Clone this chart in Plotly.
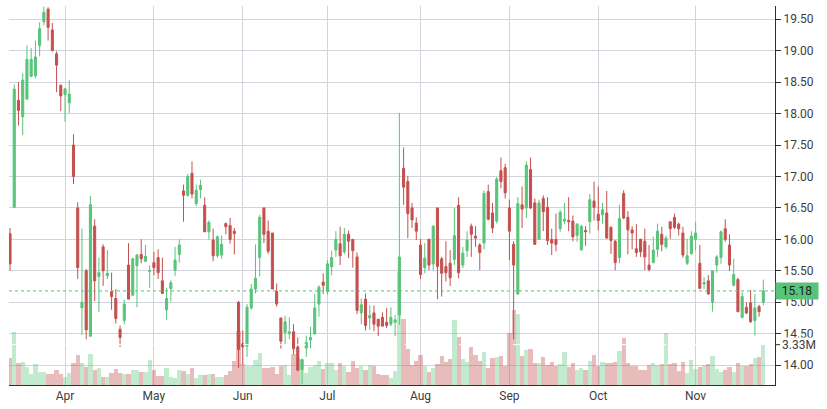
import pandas as pd
import plotly.graph_objects as go

# ---------------- data ----------------
holidays = ["2024-03-29", "2024-04-01", "2024-05-06", "2024-05-27", "2024-07-04", "2024-08-26"]
dates = pd.bdate_range("2024-03-12", "2024-11-25", freq="C", holidays=holidays)

open_ = [16.09, 16.51, 18.21, 17.95, 18.23, 18.59, 18.60, 19.08, 19.46, 19.66,
         19.33, 18.95, 18.45, 18.30, 18.17, 17.50, 16.50, 14.91, 15.50, 14.46,
         16.21, 15.41, 15.88, 15.42, 15.17, 15.06, 14.57, 14.71, 15.59, 15.11,
         15.58, 15.76, 15.65, 15.49, 15.63, 15.71, 15.34, 14.88, 15.22, 15.51,
         15.76, 16.77, 16.70, 17.05, 16.57, 16.79, 16.54, 16.12, 15.99, 15.74,
         15.75, 16.25, 16.22, 16.13, 15.00, 14.34, 14.30, 14.91, 15.21, 15.71,
         16.50, 16.13, 16.10, 15.17, 14.75, 14.52, 14.50, 14.53, 14.29, 13.93,
         14.27, 14.40, 14.50, 14.97, 15.32, 15.17, 15.56, 15.83, 15.93, 15.80,
         16.08, 16.00, 15.72, 14.83, 15.05, 14.75, 14.83, 14.73, 14.76, 14.68,
         14.65, 14.68, 14.80, 17.13, 16.92, 16.50, 16.26, 15.91, 15.55, 16.00,
         15.61, 16.50, 15.69, 15.57, 15.62, 15.68, 16.54, 15.59, 15.82, 16.21,
         16.05, 15.91, 15.94, 16.76, 16.42, 16.29, 17.09, 17.14, 16.50, 15.92,
         15.13, 16.55, 16.50, 17.11, 16.58, 16.00, 16.65, 16.51, 16.00, 16.00,
         16.17, 16.29, 16.30, 16.29, 16.06, 15.83, 16.14, 16.28, 16.61, 16.40,
         16.39, 16.42, 16.19, 15.97, 15.71, 16.73, 16.35, 16.15, 15.85, 16.00,
         15.97, 15.59, 15.63, 15.84, 16.08, 15.88, 16.28, 16.35, 16.24, 16.10,
         15.62, 15.77, 16.00, 15.62, 15.29, 15.34, 15.00, 15.59, 15.71, 16.17,
         15.91, 15.27, 15.36, 14.76, 14.92, 14.99, 14.71, 14.93, 15.00]

high = [16.18, 18.46, 18.50, 18.64, 19.08, 19.04, 19.16, 19.45, 19.70, 19.69,
        19.44, 18.99, 18.46, 18.41, 18.53, 17.67, 16.59, 16.17, 15.53, 16.69,
        16.32, 15.71, 15.92, 15.83, 15.47, 15.21, 14.63, 15.04, 15.94, 15.71,
        15.77, 16.00, 15.91, 15.59, 15.80, 15.84, 15.71, 15.23, 15.35, 15.88,
        16.00, 16.87, 17.04, 17.24, 16.87, 16.95, 16.67, 16.30, 16.17, 16.06,
        16.06, 16.27, 16.34, 16.18, 15.02, 14.55, 14.97, 15.29, 15.92, 16.39,
        16.50, 16.30, 16.10, 15.30, 14.75, 14.78, 14.76, 14.65, 14.44, 14.10,
        14.47, 14.61, 15.13, 15.27, 15.46, 15.67, 15.82, 16.13, 16.20, 16.18,
        16.14, 16.00, 15.79, 15.06, 15.14, 14.95, 14.95, 14.73, 14.84, 14.91,
        14.92, 14.80, 18.01, 17.46, 17.01, 16.58, 16.35, 16.01, 15.94, 16.01,
        16.22, 16.50, 15.72, 15.97, 15.83, 16.50, 16.67, 15.88, 16.13, 16.25,
        16.21, 15.94, 16.78, 16.87, 16.58, 16.99, 17.30, 17.20, 16.63, 15.97,
        16.67, 16.84, 17.24, 17.30, 16.65, 16.63, 16.70, 16.67, 16.17, 16.41,
        16.47, 16.58, 16.67, 16.38, 16.26, 16.23, 16.21, 16.72, 16.92, 16.84,
        16.58, 16.77, 16.21, 15.99, 16.55, 16.78, 16.45, 16.21, 16.24, 16.01,
        16.17, 15.91, 16.04, 16.25, 16.20, 16.06, 16.28, 16.41, 16.27, 16.20,
        16.01, 16.13, 16.28, 15.91, 15.40, 15.43, 15.50, 15.75, 16.14, 16.32,
        16.08, 15.69, 15.39, 15.16, 15.00, 15.19, 15.13, 14.96, 15.36]

low = [15.50, 16.51, 17.81, 17.66, 18.22, 18.58, 18.56, 18.91, 19.40, 19.16,
       18.99, 18.34, 18.04, 17.87, 18.01, 16.88, 15.37, 14.48, 14.41, 14.46,
       15.02, 14.84, 15.26, 15.37, 14.88, 14.66, 14.29, 14.65, 15.05, 15.11,
       14.92, 15.62, 15.64, 15.23, 15.43, 15.37, 15.13, 14.72, 15.01, 15.42,
       15.63, 16.28, 16.68, 16.65, 16.53, 16.65, 16.12, 16.00, 15.65, 15.71,
       15.69, 16.08, 15.93, 15.76, 13.95, 14.01, 14.13, 14.88, 15.14, 15.41,
       15.94, 15.77, 15.21, 14.93, 14.26, 14.33, 14.41, 14.17, 13.90, 13.70,
       14.13, 14.27, 14.48, 14.77, 15.13, 15.12, 15.43, 15.72, 15.59, 15.77,
       15.70, 15.55, 14.81, 14.65, 14.55, 14.56, 14.54, 14.46, 14.62, 14.59,
       14.62, 14.46, 14.64, 16.55, 16.02, 16.18, 15.99, 15.37, 15.46, 15.51,
       15.51, 15.05, 15.09, 15.33, 15.26, 15.59, 15.38, 15.54, 15.72, 15.72,
       15.88, 15.51, 15.84, 16.30, 16.10, 16.25, 16.81, 16.65, 15.67, 14.41,
       15.12, 16.18, 16.34, 16.48, 15.91, 16.00, 16.13, 15.91, 15.75, 15.81,
       16.12, 16.24, 16.13, 15.97, 15.96, 15.83, 15.90, 16.09, 16.30, 16.14,
       16.25, 16.01, 15.77, 15.51, 15.62, 16.32, 15.76, 15.84, 15.72, 15.72,
       15.51, 15.49, 15.62, 15.72, 15.81, 15.85, 16.01, 16.16, 16.06, 15.71,
       15.59, 15.76, 15.83, 15.21, 15.21, 15.12, 14.85, 15.47, 15.61, 15.96,
       15.50, 15.25, 14.84, 14.74, 14.81, 14.67, 14.47, 14.77, 14.95]

close = [15.61, 18.39, 18.05, 18.53, 18.86, 18.86, 18.90, 19.35, 19.61, 19.37,
         19.00, 18.77, 18.28, 18.39, 18.31, 17.00, 15.55, 15.00, 14.56, 16.55,
         15.34, 15.47, 15.50, 15.46, 15.09, 14.74, 14.44, 14.97, 15.05, 15.69,
         15.75, 15.69, 15.73, 15.50, 15.55, 15.47, 15.14, 15.06, 15.31, 15.67,
         15.91, 16.70, 17.00, 16.72, 16.78, 16.86, 16.12, 16.27, 15.74, 16.04,
         15.92, 16.20, 16.00, 16.09, 14.25, 14.29, 14.92, 15.21, 15.38, 16.35,
         16.08, 15.81, 15.21, 14.97, 14.38, 14.69, 14.53, 14.26, 13.92, 14.09,
         14.36, 14.44, 14.91, 15.24, 15.27, 15.61, 15.71, 16.00, 15.74, 16.08,
         15.97, 15.82, 14.87, 14.96, 14.63, 14.79, 14.65, 14.62, 14.62, 14.63,
         14.76, 14.72, 15.72, 16.83, 16.41, 16.31, 16.13, 15.44, 15.70, 15.59,
         16.21, 15.57, 15.46, 15.47, 15.39, 16.06, 15.47, 15.78, 15.99, 16.08,
         16.02, 15.79, 16.73, 16.32, 16.18, 16.96, 16.92, 16.74, 16.13, 15.59,
         16.57, 16.48, 17.18, 16.50, 15.92, 16.58, 16.44, 15.98, 15.94, 15.92,
         16.43, 16.32, 16.28, 16.04, 16.24, 16.21, 16.12, 16.63, 16.51, 16.30,
         16.47, 16.02, 15.98, 15.63, 16.33, 16.34, 16.15, 16.10, 15.79, 15.80,
         15.72, 15.52, 15.83, 16.13, 15.92, 16.02, 16.17, 16.19, 16.17, 15.75,
         15.74, 16.05, 16.10, 15.22, 15.31, 15.13, 15.50, 15.72, 16.12, 16.00,
         15.59, 15.44, 14.85, 15.09, 14.83, 14.69, 14.91, 14.85, 15.18]

volume_m = [2.19, 4.37, 1.83, 1.91, 1.50, 0.87, 1.75, 1.09, 1.09, 0.87,
            0.87, 1.20, 0.93, 0.68, 1.01, 1.83, 2.49, 1.83, 1.48, 2.57,
            1.28, 1.42, 0.68, 0.68, 1.01, 1.34, 1.01, 0.93, 0.93, 1.28,
            1.28, 1.09, 1.09, 2.08, 1.28, 0.77, 0.77, 1.42, 0.68, 0.60,
            1.26, 1.17, 0.93, 1.42, 0.60, 0.82, 0.85, 0.93, 0.93, 0.68,
            0.68, 0.85, 1.17, 1.99, 4.43, 1.75, 1.61, 1.53, 2.10, 2.65,
            1.42, 1.42, 1.48, 0.93, 1.53, 1.69, 0.85, 2.57, 2.24, 2.10,
            1.01, 1.48, 1.69, 1.99, 1.34, 1.83, 1.83, 1.26, 1.83, 1.53,
            1.09, 1.99, 1.42, 1.53, 1.26, 1.64, 1.61, 0.93, 0.79, 0.85,
            0.60, 1.17, 9.37, 5.44, 3.01, 1.67, 2.02, 2.49, 1.61, 1.09,
            1.42, 1.75, 2.40, 1.91, 2.16, 5.38, 3.96, 2.16, 1.91, 3.14,
            2.49, 1.99, 2.73, 1.42, 2.24, 2.32, 2.40, 1.53, 4.29, 6.17,
            5.85, 2.40, 2.90, 2.98, 1.83, 1.83, 2.32, 1.67, 1.91, 1.53,
            1.75, 2.73, 1.50, 1.83, 1.28, 1.42, 1.26, 1.99, 2.49, 1.61,
            1.91, 1.83, 1.83, 1.91, 2.81, 3.88, 1.83, 1.61, 1.61, 1.20,
            1.26, 1.69, 1.83, 1.69, 1.75, 4.29, 1.75, 1.83, 1.17, 1.91,
            1.01, 2.08, 1.34, 1.50, 1.67, 1.75, 2.40, 1.34, 1.09, 1.26,
            1.50, 1.09, 1.83, 1.61, 1.61, 1.75, 2.24, 2.32, 3.33]

last_price_label = "15.18"
last_volume_label = "3.33M"

# ---------------- styling ----------------
UP = "#57c47a"
DOWN = "#c4504e"
UP_VOL = "rgba(87,196,122,0.36)"
DOWN_VOL = "rgba(196,80,78,0.38)"
GRID = "#d1d4dc"
AXIS = "#2f2f2f"
TEXT = "#3d3d3d"

x = [d.strftime("%Y-%m-%d") for d in dates]
volume = [v * 1e6 for v in volume_m]
vol_colors = [UP_VOL if c >= o else DOWN_VOL for o, c in zip(open_, close)]

tickvals, ticktext = [], []
for i in range(1, len(dates)):
    if dates[i].month != dates[i - 1].month:
        tickvals.append(x[i])
        ticktext.append(dates[i].strftime("%b"))

fig = go.Figure()
fig.add_trace(go.Bar(
    x=x, y=volume, marker=dict(color=vol_colors, line=dict(width=0)),
    yaxis="y", hoverinfo="skip", showlegend=False,
))
fig.add_trace(go.Candlestick(
    x=x, open=open_, high=high, low=low, close=close, yaxis="y2",
    increasing=dict(line=dict(color=UP, width=1), fillcolor=UP),
    decreasing=dict(line=dict(color=DOWN, width=1), fillcolor=DOWN),
    whiskerwidth=0, showlegend=False,
))

last_close = close[-1]
last_vol = volume[-1]

fig.update_layout(
    width=827, height=409,
    margin=dict(l=9, r=52, t=6, b=22),
    paper_bgcolor="white", plot_bgcolor="white",
    showlegend=False, bargap=0, boxgap=0.3,
    font=dict(family="Roboto", size=12, color=TEXT),
    xaxis=dict(
        type="category", range=[-0.24, len(x) - 1 + 2.76],
        tickmode="array", tickvals=tickvals, ticktext=ticktext,
        showgrid=True, gridcolor=GRID, gridwidth=1,
        showline=True, linecolor=AXIS, linewidth=1, ticks="",
        rangeslider=dict(visible=False), tickfont=dict(size=12, color=TEXT),
    ),
    yaxis=dict(range=[0, 31.3e6], visible=False, fixedrange=True),
    yaxis2=dict(
        overlaying="y", side="right", anchor="x",
        range=[13.684, 19.71], tick0=14, dtick=0.5, tickformat=".2f",
        showgrid=True, gridcolor=GRID, gridwidth=1, zeroline=False,
        showline=True, linecolor=AXIS, linewidth=1,
        ticks="outside", ticklen=5, tickcolor=AXIS,
        tickfont=dict(size=12, color=TEXT),
    ),
    shapes=[
        dict(type="line", xref="paper", x0=0, x1=1, yref="y2", y0=last_close, y1=last_close,
             line=dict(color=UP, width=1, dash="dot"), layer="above"),
        dict(type="line", xref="paper", x0=0, x1=1, yref="y", y0=last_vol, y1=last_vol,
             line=dict(color="white", width=1, dash="dash"), layer="above"),
        dict(type="line", xref="paper", xsizemode="pixel", xanchor=1, x0=0, x1=5,
             yref="y", y0=last_vol, y1=last_vol,
             line=dict(color=AXIS, width=1), layer="above"),
    ],
    annotations=[
        dict(x=1, xref="paper", xanchor="left", y=last_vol, yref="y", yanchor="middle",
             text=last_volume_label, showarrow=False, bgcolor="white", xshift=6,
             width=40, align="left", borderpad=0,
             font=dict(size=12, color=TEXT)),
        dict(x=1, xref="paper", xanchor="left", y=last_close, yref="y2", yanchor="middle",
             text=last_price_label, showarrow=False, bgcolor=UP,
             width=40, align="center", borderpad=1,
             font=dict(size=12, color="#1e1e1e")),
    ],
)

fig.write_html("out.html", config={"displayModeBar": False},
               post_script="document.body.style.margin='0';")
